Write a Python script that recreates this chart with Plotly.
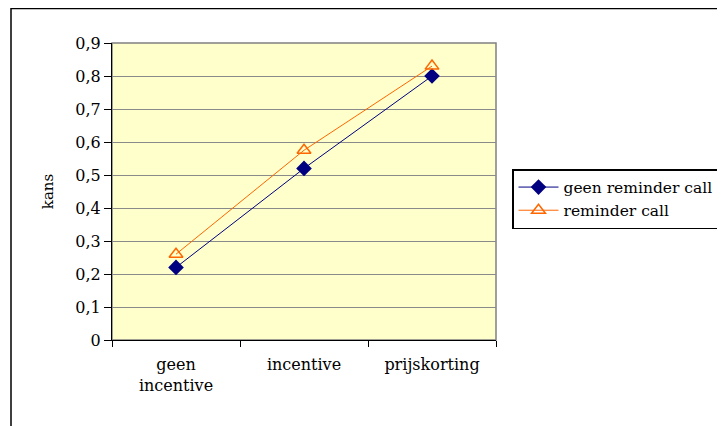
import plotly.graph_objects as go

categories = ["geen<br>incentive", "incentive", "prijskorting"]
geen_reminder = [0.22, 0.52, 0.80]
reminder = [0.26, 0.575, 0.83]
y_ticks = [0, 0.1, 0.2, 0.3, 0.4, 0.5, 0.6, 0.7, 0.8, 0.9]
y_ticklabels = ["0", "0,1", "0,2", "0,3", "0,4", "0,5", "0,6", "0,7", "0,8", "0,9"]

FONT = "DejaVu Serif"

# page body adds an 8px margin; compensate
OFF = 8
FW, FH = 725 - OFF, 426 - OFF
L, T, W, H = 112 - OFF, 43 - OFF, 384, 297

def px(x):
    return (x - OFF - L) / W
def py(y):
    return (T + H - (y - OFF)) / H

fig = go.Figure()
fig.add_trace(go.Scatter(
    x=categories, y=geen_reminder, name="geen reminder call",
    mode="lines+markers",
    line=dict(color="#000080", width=1),
    marker=dict(symbol="diamond", size=12, color="#000080"),
))
fig.add_trace(go.Scatter(
    x=categories, y=reminder, name="reminder call",
    mode="lines+markers",
    line=dict(color="#FF6600", width=1),
    marker=dict(symbol="triangle-up-open", size=12, color="#FF6600", line=dict(width=1.5)),
))

fig.add_shape(type="rect", xref="paper", yref="paper",
              x0=px(11), x1=px(740), y0=py(8.5), y1=py(440),
              line=dict(color="black", width=1.5), fillcolor="rgba(0,0,0,0)", layer="below")
fig.add_shape(type="rect", xref="paper", yref="paper", x0=0, x1=1, y0=0, y1=1,
              line=dict(color="#808080", width=1.5), fillcolor="rgba(0,0,0,0)", layer="below")

fig.update_layout(
    width=FW, height=FH,
    margin=dict(l=L, r=FW - L - W, t=T, b=FH - T - H, autoexpand=False),
    paper_bgcolor="white",
    plot_bgcolor="#FFFFCC",
    font=dict(family=FONT, size=16, color="black"),
    showlegend=True,
    legend=dict(x=px(512), y=py(169), xanchor="left", yanchor="top",
                bordercolor="black", borderwidth=1.5, bgcolor="white",
                font=dict(family=FONT, size=15.5), tracegroupgap=0,
                itemwidth=40),
    xaxis=dict(
        type="category", showgrid=False, showline=True, linecolor="black", linewidth=1,
        ticks="outside", tickson="boundaries", ticklen=6, tickcolor="black",
        tickfont=dict(family=FONT, size=16), range=[-0.5, 2.5],
        ticklabelstandoff=10,
    ),
    yaxis=dict(
        range=[0, 0.9], tickvals=y_ticks, ticktext=y_ticklabels,
        showgrid=True, gridcolor="#8a8a8a", gridwidth=1,
        showline=True, linecolor="black", linewidth=1,
        ticks="outside", ticklen=7, tickcolor="black",
        tickfont=dict(family=FONT, size=16),
        title=dict(text="kans", font=dict(family=FONT, size=15), standoff=18),
        zeroline=False,
    ),
)

fig.write_html("out.html")
